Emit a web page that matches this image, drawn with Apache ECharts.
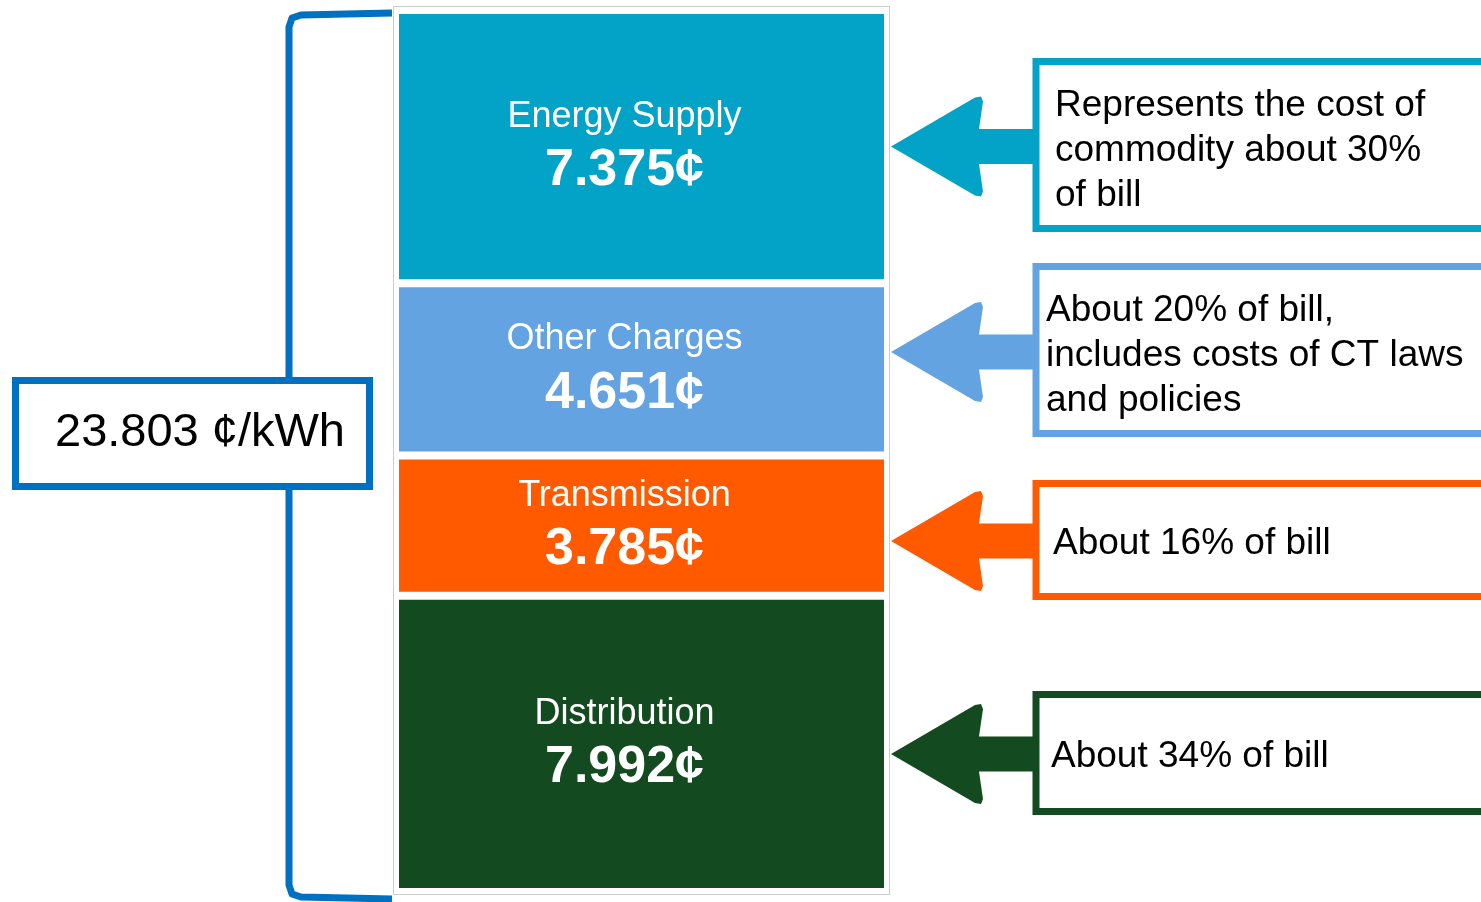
<!DOCTYPE html>
<html lang="en">
<head>
<meta charset="UTF-8">
<title>Electric bill components</title>
<script src="https://cdn.jsdelivr.net/npm/echarts@6/dist/echarts.min.js"></script>
<style>
    body {margin: 0; background: #fff;}
    #main {width: 1481px; height: 902px;}
</style>
</head>
<body>
<div id="main"></div>
<script>
    // cents per kWh, listed top to bottom as stacked in the bar
    var parts = ['Energy Supply', 'Other Charges', 'Transmission', 'Distribution'];
    var cents = [7.375, 4.651, 3.785, 7.992];
    var colors = ['#03a2c7', '#64a3e2', '#ff5a00', '#144a1f'];
    var notes = [
        ['Represents the cost of', 'commodity about 30%', 'of bill'],
        ['About 20% of bill,', 'includes costs of CT laws', 'and policies'],
        ['About 16% of bill'],
        ['About 34% of bill']
    ];

    var total = cents.reduce(function (a, b) { return a + b; }, 0);
    var font = '"Liberation Sans", Arial, sans-serif';

    // callout placement (annotation layout only)
    var boxTop = [58, 263, 480, 691];
    var boxBottom = [232, 437, 600, 815];
    var arrowY = [146.5, 352, 541, 754];
    var textX = [1055, 1046, 1053, 1051];

    var series = parts.map(function (name, i) {
        return {
            name: name,
            type: 'bar',
            stack: 'bill',
            barWidth: '100%',
            data: [cents[i]],
            itemStyle: {color: colors[i], borderColor: '#fff', borderWidth: 4},
            label: {
                show: true,
                position: 'inside',
                offset: [-17, -2],
                formatter: '{n|' + name + '}\n{v|' + cents[i].toFixed(3) + '¢}',
                rich: {
                    n: {color: '#fff', fontSize: 36, fontFamily: font, lineHeight: 52},
                    v: {color: '#fff', fontSize: 52, fontWeight: 'bold', fontFamily: font, lineHeight: 56}
                }
            }
        };
    });

    var graphics = [];
    // thin frame round the bar
    graphics.push({
        type: 'rect', z: 1, silent: true,
        shape: {x: 393.5, y: 6.5, width: 496, height: 888},
        style: {fill: 'none', stroke: '#cccccc', lineWidth: 1}
    });
    // bracket on the left
    graphics.push({
        type: 'polyline', z: 10, silent: true,
        shape: {points: [[392, 13], [301, 15], [292, 18], [289, 27], [289, 885], [292, 894], [301, 897], [392, 899]]},
        style: {fill: 'none', stroke: '#0070c0', lineWidth: 7, lineJoin: 'round'}
    });
    graphics.push({
        type: 'rect', z: 11, silent: true,
        shape: {x: 15.5, y: 380.5, width: 354, height: 106},
        style: {fill: '#fff', stroke: '#0070c0', lineWidth: 7}
    });
    graphics.push({
        type: 'text', z: 12, silent: true,
        x: 55, y: 433,
        style: {
            text: total.toFixed(3) + ' ¢/kWh',
            font: '47px ' + font,
            fill: '#000',
            verticalAlign: 'middle'
        }
    });

    // arrows and note boxes on the right
    var head = [[0, 0], [84, -49], [90, -50], [92, -45], [88, -17.5], [145, -17.5],
                [145, 17.5], [88, 17.5], [92, 45], [90, 50], [84, 49]];
    for (var i = 0; i < parts.length; i++) {
        graphics.push({
            type: 'polygon', z: 10, silent: true,
            x: 891, y: arrowY[i],
            shape: {points: head},
            style: {fill: colors[i]}
        });
        graphics.push({
            type: 'rect', z: 11, silent: true,
            shape: {x: 1036, y: boxTop[i] + 3.5, width: 500, height: boxBottom[i] - boxTop[i] - 7},
            style: {fill: '#fff', stroke: colors[i], lineWidth: 7}
        });
        graphics.push({
            type: 'text', z: 12, silent: true,
            x: textX[i], y: arrowY[i] + 3 + (notes[i].length > 1 ? 1 : 0),
            style: {
                text: notes[i].join('\n'),
                font: '37px ' + font,
                lineHeight: 45,
                fill: '#000',
                verticalAlign: 'middle'
            }
        });
    }

    var myChart = echarts.init(document.getElementById('main'));
    var option = {
        animation: false,
        grid: {left: 395, right: 593, top: 10, bottom: 10},
        xAxis: {type: 'category', data: ['bill'], show: false},
        yAxis: {type: 'value', min: 0, max: total, inverse: true, show: false},
        series: series,
        graphic: graphics
    };
    myChart.setOption(option);
</script>
</body>
</html>
